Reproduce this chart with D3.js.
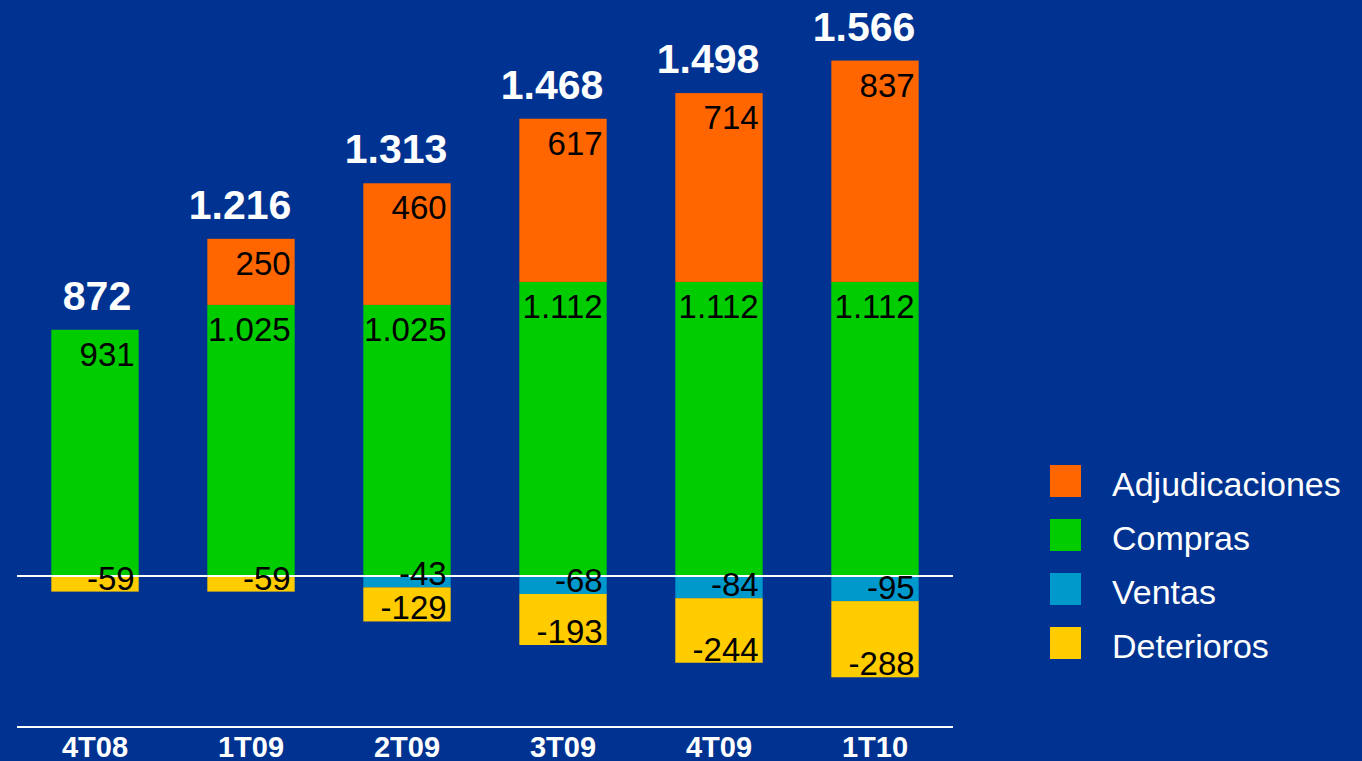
<!DOCTYPE html>
<html>
<head>
<meta charset="utf-8">
<script src="https://cdn.jsdelivr.net/npm/d3@7"></script>
<style>
  html, body { margin: 0; padding: 0; background: #003391; overflow: hidden; }
  svg { display: block; }
</style>
</head>
<body>
<svg id="chart" width="1362" height="761"></svg>
<script>
// Quarters and stacked components (millones de euros)
const quarters = ["4T08", "1T09", "2T09", "3T09", "4T09", "1T10"];
const adjudicaciones = [0, 250, 460, 617, 714, 837];
const compras = [931, 1025, 1025, 1112, 1112, 1112];
const ventas = [0, 0, -43, -68, -84, -95];
const deterioros = [-59, -59, -129, -193, -244, -288];
const totals = [872, 1216, 1313, 1468, 1498, 1566];

const seriesNames = ["Adjudicaciones", "Compras", "Ventas", "Deterioros"];
const seriesColors = ["#FF6600", "#00CC00", "#0099CC", "#FFCC00"];

const fmt = v => {
  const s = d3.format(",")(Math.abs(v)).replace(/,/g, ".");
  return (v < 0 ? "-" : "") + s;
};

const svg = d3.select("#chart");

const x = d3.scaleBand()
  .domain(quarters)
  .range([17, 953])
  .paddingInner(0.44)
  .paddingOuter(0.22);

const y = d3.scaleLinear()
  .domain([-571, 2178])
  .range([727, 0]);

// Build stacked segments: positives upward from zero, negatives downward
const segments = [];
quarters.forEach((q, i) => {
  let pos = 0, neg = 0;
  [["Compras", compras[i]], ["Adjudicaciones", adjudicaciones[i]]].forEach(([name, v]) => {
    if (v > 0) { segments.push({ q, name, v, y0: pos, y1: pos + v }); pos += v; }
  });
  [["Ventas", ventas[i]], ["Deterioros", deterioros[i]]].forEach(([name, v]) => {
    if (v < 0) { segments.push({ q, name, v, y0: neg, y1: neg + v }); neg += v; }
  });
});

const color = d3.scaleOrdinal().domain(seriesNames).range(seriesColors);

svg.append("g").selectAll("rect")
  .data(segments)
  .join("rect")
  .attr("x", d => x(d.q))
  .attr("width", x.bandwidth())
  .attr("y", d => Math.min(y(d.y0), y(d.y1)))
  .attr("height", d => Math.abs(y(d.y0) - y(d.y1)))
  .attr("fill", d => color(d.name));

// Zero line and bottom rule
svg.append("line")
  .attr("x1", 17).attr("x2", 953)
  .attr("y1", y(0)).attr("y2", y(0))
  .attr("stroke", "#fff").attr("stroke-width", 2);

svg.append("line")
  .attr("x1", 17).attr("x2", 953)
  .attr("y1", 727).attr("y2", 727)
  .attr("stroke", "#fff").attr("stroke-width", 2);

// Segment value labels, right aligned inside each bar
svg.append("g").selectAll("text")
  .data(segments)
  .join("text")
  .attr("x", d => x(d.q) + x.bandwidth() - 4)
  .attr("y", d => d.v > 0 ? y(d.y1) + 36 : y(d.y1) - 2)
  .attr("text-anchor", "end")
  .attr("font-family", "Liberation Sans, Arial, sans-serif")
  .attr("font-size", 33)
  .attr("fill", "#000")
  .text(d => fmt(d.v));

// Totals above each stack
svg.append("g").selectAll("text")
  .data(quarters)
  .join("text")
  .attr("x", q => x(q) + x.bandwidth() / 2)
  .attr("dx", (q, i) => totals[i] >= 1000 ? -11 : 2)
  .attr("y", (q, i) => y(compras[i] + adjudicaciones[i]) - 20)
  .attr("text-anchor", "middle")
  .attr("font-family", "Liberation Sans, Arial, sans-serif")
  .attr("font-weight", "bold")
  .attr("font-size", 41)
  .attr("fill", "#fff")
  .text((q, i) => fmt(totals[i]));

// Category axis
const xAxis = svg.append("g")
  .attr("transform", "translate(0,727)")
  .call(d3.axisBottom(x).tickSize(0).tickPadding(0));
xAxis.select(".domain").remove();
xAxis.selectAll("text")
  .attr("dy", null)
  .attr("y", 30)
  .attr("fill", "#fff")
  .attr("font-family", "Liberation Sans, Arial, sans-serif")
  .attr("font-weight", "bold")
  .attr("font-size", 29);

// Legend
const legend = svg.append("g").selectAll("g")
  .data(seriesNames)
  .join("g")
  .attr("transform", (d, i) => `translate(1050, ${465 + i * 54})`);
legend.append("rect")
  .attr("width", 31).attr("height", 32)
  .attr("fill", d => color(d));
legend.append("text")
  .attr("x", 62).attr("y", 31)
  .attr("font-family", "Liberation Sans, Arial, sans-serif")
  .attr("font-size", 34)
  .attr("fill", "#fff")
  .text(d => d);
</script>
</body>
</html>
